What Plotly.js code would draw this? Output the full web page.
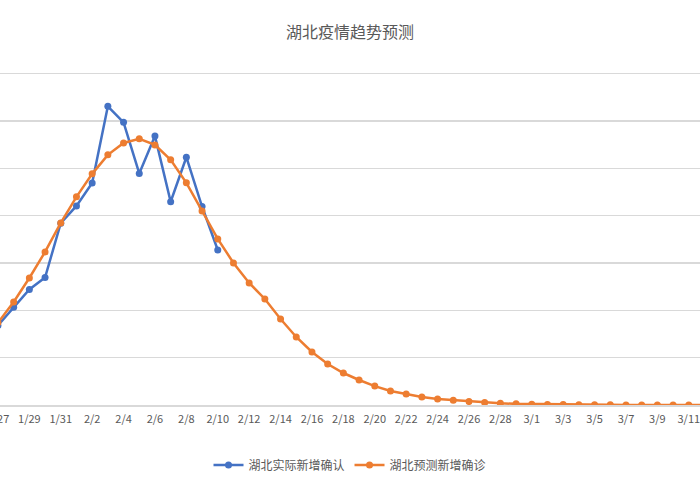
<!DOCTYPE html>
<html>
<head>
<meta charset="utf-8">
<script src="https://cdn.plot.ly/plotly-3.0.1.min.js"></script>
<style>
  html, body { margin: 0; padding: 0; width: 700px; height: 500px; overflow: hidden; background: #fff; }
  #chart { position: absolute; left: -15px; top: 0; width: 730px; height: 500px; }
</style>
</head>
<body>
<div id="chart"></div>
<script>
// Categories (dates, 2020)
const dates = ["1/27","1/28","1/29","1/30","1/31","2/1","2/2","2/3","2/4","2/5","2/6","2/7","2/8","2/9","2/10",
  "2/11","2/12","2/13","2/14","2/15","2/16","2/17","2/18","2/19","2/20","2/21","2/22","2/23","2/24","2/25",
  "2/26","2/27","2/28","2/29","3/1","3/2","3/3","3/4","3/5","3/6","3/7","3/8","3/9","3/10","3/11","3/12","3/13"];

// 湖北实际新增确认 (actual)
const actual = [840, 1032, 1220, 1347, 1921, 2103, 2345, 3156, 2987, 2447, 2841, 2147, 2618, 2097, 1638];

// 湖北预测新增确诊 (forecast)
const forecast = [870, 1089, 1342, 1617, 1924, 2199, 2442, 2643, 2769, 2812, 2748, 2590, 2347, 2051, 1755,
  1501, 1290, 1120, 909, 719, 560, 433, 338, 264, 200, 148, 116, 85, 63, 50,
  36, 26, 18, 12, 9, 6, 4, 3, 2, 1.5, 1, 1, 0.5, 0.4, 0.3, 0.2, 0.1];

const seriesNames = ["湖北实际新增确认", "湖北预测新增确诊"];
const titleText = "湖北疫情趋势预测";

const FONT = "'Noto Sans CJK SC', 'Noto Sans', sans-serif";
const GREY = "#595959";

const traces = [
  {
    x: dates.slice(0, actual.length), y: actual, name: seriesNames[0],
    type: "scatter", mode: "lines+markers",
    line: { color: "#4472C4", width: 2.5 },
    marker: { color: "#4472C4", size: 7 }
  },
  {
    x: dates.slice(0, forecast.length), y: forecast, name: seriesNames[1],
    type: "scatter", mode: "lines+markers",
    line: { color: "#ED7D31", width: 2.5 },
    marker: { color: "#ED7D31", size: 7 }
  }
];

const layout = {
  width: 730, height: 500,
  margin: { l: 0, r: 0, t: 69, b: 95 },
  paper_bgcolor: "#ffffff", plot_bgcolor: "#ffffff",
  font: { family: FONT, color: GREY, size: 11 },
  title: {
    text: titleText, font: { family: FONT, size: 16, color: GREY },
    x: 0.5, xref: "container", xanchor: "center",
    y: 1 - 32 / 500, yref: "container", yanchor: "middle"
  },
  xaxis: {
    type: "category", categoryorder: "array", categoryarray: dates,
    range: [-0.825, 45.67],
    tick0: 0, dtick: 2,
    showgrid: false, zeroline: false,
    showline: true, linecolor: "#d9d9d9", linewidth: 1.5,
    ticks: "", ticklabelstandoff: 3,
    tickfont: { family: FONT, size: 11, color: GREY },
    fixedrange: true
  },
  yaxis: {
    range: [0, 3550], dtick: 500, tick0: 0,
    showgrid: true, gridcolor: "#d9d9d9", gridwidth: 1.5,
    zeroline: false, showticklabels: false, ticks: "",
    fixedrange: true
  },
  showlegend: true,
  legend: {
    orientation: "h", x: 0.5, xref: "container", xanchor: "center",
    y: 1 - 465 / 500, yref: "container", yanchor: "middle",
    font: { family: FONT, size: 12, color: GREY },
    itemwidth: 30
  }
};

Plotly.newPlot("chart", traces, layout, { displayModeBar: false, staticPlot: true });
</script>
</body>
</html>
